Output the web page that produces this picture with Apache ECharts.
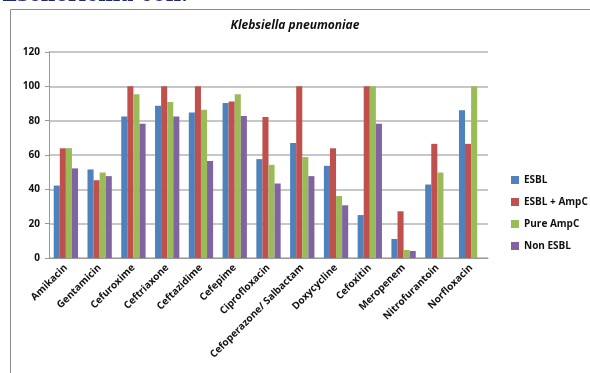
<!DOCTYPE html>
<html><head><meta charset="utf-8">
<script src="https://cdn.jsdelivr.net/npm/echarts@6/dist/echarts.min.js"></script>
<style>html,body{margin:0;padding:0;background:#fff}#c{width:590px;height:373px}</style>
</head><body><div id="c"></div>
<script>
const categories = ["Amikacin","Gentamicin","Cefuroxime","Ceftriaxone","Ceftazidime","Cefepime","Ciprofloxacin","Cefoperazone/ Salbactam","Doxycycline","Cefoxitin","Meropenem","Nitrofurantoin","Norfloxacin"];
const esbl     = [42.2, 51.6, 82.5, 88.7, 84.8, 90.3, 57.6, 67.0, 53.7, 25.0, 11.1, 42.8, 86.0];
const esblAmpc = [63.9, 45.3, 100, 100, 100, 91.1, 82.1, 100, 63.9, 100, 27.2, 66.5, 66.5];
const pureAmpc = [64.0, 49.8, 95.4, 90.9, 86.4, 95.4, 54.3, 58.8, 36.1, 100, 4.7, 49.8, 100];
const nonEsbl  = [52.2, 47.7, 78.2, 82.5, 56.5, 82.7, 43.4, 47.7, 30.7, 78.2, 4.1, 0, 0];
const yTicks = [0, 20, 40, 60, 80, 100, 120];
const seriesNames = ["ESBL", "ESBL + AmpC", "Pure AmpC", "Non ESBL"];
const colors = ["#4F81BD", "#C0504D", "#9BBB59", "#8064A2"];
const font = "'Open Sans', 'DejaVu Sans', sans-serif";

const chart = echarts.init(document.getElementById('c'), null, {renderer: 'canvas'});
const data = [esbl, esblAmpc, pureAmpc, nonEsbl];
chart.setOption({
  animation: false,
  color: colors,
  graphic: [
    {type: 'rect', shape: {x: 10.5, y: 9.5, width: 600, height: 400}, style: {fill: 'none', stroke: '#8a8a8a', lineWidth: 1}, silent: true},
    {type: 'text', left: 2, top: -14, style: {text: 'Escherichia coli.', fill: '#1f2a6e', font: 'bold 20px "DejaVu Serif", serif'}},
    {type: 'text', left: 'center', top: 20, style: {text: 'Klebsiella pneumoniae', fill: '#111', font: 'italic bold 12px ' + font}}
  ],
  grid: {left: 49, right: 102, top: 52, bottom: 115, containLabel: false},
  legend: {
    orient: 'vertical', left: 506, top: 170, itemWidth: 8, itemHeight: 8, itemGap: 12,
    icon: 'rect', data: seriesNames,
    textStyle: {fontFamily: font, fontWeight: 'bold', fontSize: 10, color: '#111'}
  },
  xAxis: {
    type: 'category', data: categories,
    axisLine: {lineStyle: {color: '#999'}},
    axisTick: {show: false},
    axisLabel: {interval: 0, rotate: 45, fontFamily: font, fontWeight: 'bold', fontSize: 10, color: '#111', margin: 8}
  },
  yAxis: {
    type: 'value', min: 0, max: 120, interval: 20,
    axisLine: {show: true, lineStyle: {color: '#999'}},
    axisTick: {show: true, length: 4, lineStyle: {color: '#999'}},
    splitLine: {lineStyle: {color: '#b5b5b5', width: 1.5}},
    axisLabel: {fontFamily: font, fontWeight: 'bold', fontSize: 10, color: '#111', margin: 9,
      formatter: v => yTicks.includes(v) ? String(v) : ''}
  },
  series: seriesNames.map((n, i) => ({
    name: n, type: 'bar', data: data[i], barGap: '0%', barCategoryGap: '28%',
    itemStyle: {color: colors[i]}
  }))
});
</script></body></html>
